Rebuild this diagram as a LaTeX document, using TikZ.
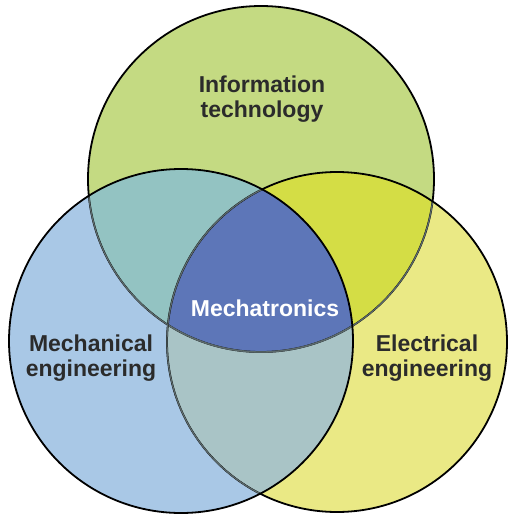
\documentclass[tikz,border=0pt]{standalone}
\usepackage{fontspec}
\setmainfont{Liberation Sans}
\definecolor{itgreen}{HTML}{C4DA82}
\definecolor{meblue}{HTML}{A9C8E6}
\definecolor{eeyellow}{HTML}{EAE985}
\definecolor{itme}{HTML}{93C3C2}
\definecolor{itee}{HTML}{D4DD45}
\definecolor{meee}{HTML}{A9C4C6}
\definecolor{mechablue}{HTML}{5D76B8}
\definecolor{textgray}{HTML}{2B2B2B}
\definecolor{innerline}{HTML}{5C6A6C}
\begin{document}
\begin{tikzpicture}[x=1pt,y=1pt,
    areatext/.style={font=\fontsize{23}{25}\selectfont\bfseries, text=textgray, align=center},
    outline/.style={draw=black, line width=1.8pt},
    innerarc/.style={draw=innerline, line width=1.3pt}]
    \useasboundingbox (0,0) rectangle (507,-516);
    \def\itcircle{(261,-179) circle (173pt)}
    \def\mecircle{(181,-341) circle (172pt)}
    \def\eecircle{(337,-342) circle (170pt)}

    % areas
    \fill[itgreen] \itcircle;
    \fill[meblue] \mecircle;
    \fill[eeyellow] \eecircle;
    \begin{scope}
        \clip \itcircle;
        \fill[itme] \mecircle;
        \fill[itee] \eecircle;
    \end{scope}
    \begin{scope}
        \clip \mecircle;
        \fill[meee] \eecircle;
    \end{scope}
    \begin{scope}
        \clip \itcircle;
        \clip \mecircle;
        \fill[mechablue] \eecircle;
    \end{scope}

    % outlines
    \draw[outline] \itcircle;
    \begin{scope}
        \clip \mecircle;
        \draw[innerarc] \itcircle;
    \end{scope}
    \begin{scope}
        \clip \eecircle;
        \draw[innerarc] \itcircle;
    \end{scope}
    \draw[outline] \eecircle;
    \begin{scope}
        \clip \mecircle;
        \draw[innerarc] \eecircle;
    \end{scope}
    \draw[outline] \mecircle;

    % texts
    \node[areatext] (it) at (262,-99) {Information\\technology};
    \node[areatext] (me) at (91,-358.5) {Mechanical\\engineering};
    \node[areatext] (ee) at (427,-358.5) {Electrical\\engineering};
    \node[areatext, text=white] (mecha) at (265,-308.6) {Mechatronics};
\end{tikzpicture}
\end{document}
